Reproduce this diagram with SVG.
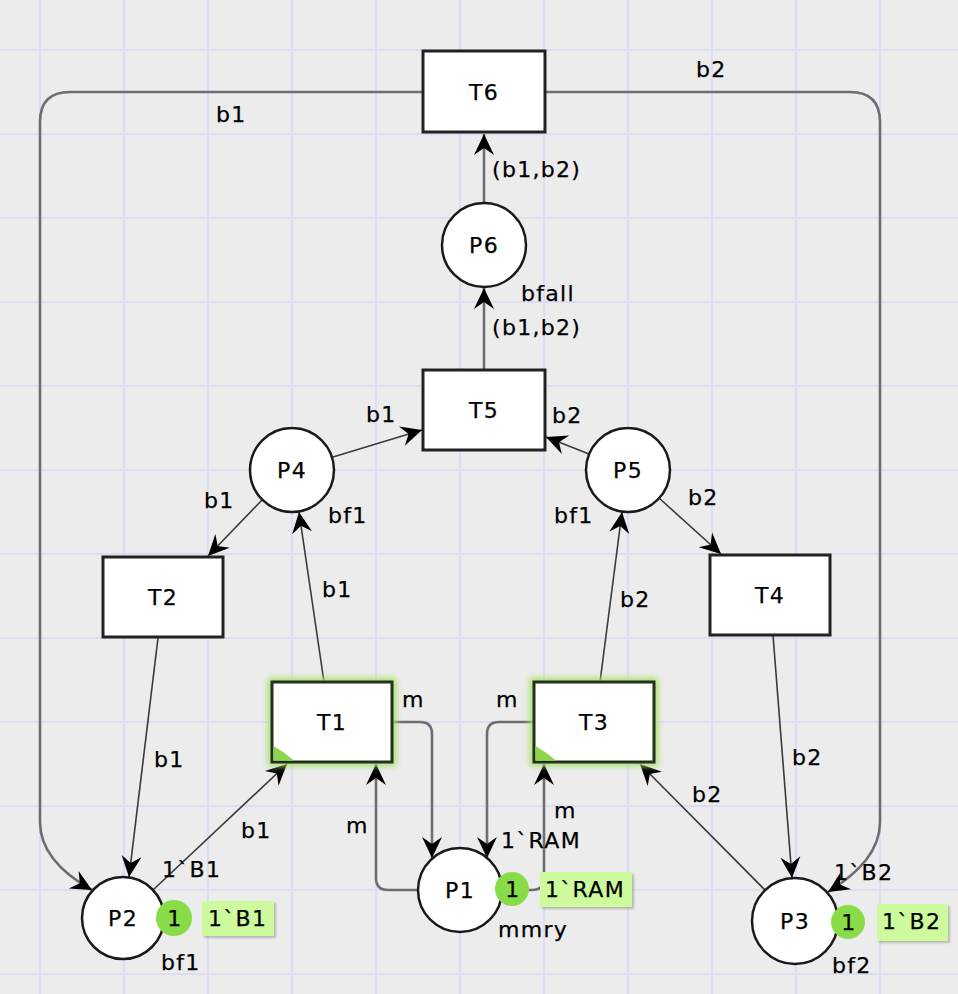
<svg xmlns="http://www.w3.org/2000/svg" width="958" height="994" viewBox="0 0 958 994">
<defs>
<style>
.t{font-family:"DejaVu Sans",Verdana,sans-serif;font-size:22px;letter-spacing:1.3px;fill:#000;stroke:#000;stroke-width:0.25}
.c{text-anchor:middle;dominant-baseline:central}
.tr{fill:#fff;stroke:#222;stroke-width:3}
.pl{fill:#fff;stroke:#1a1a1a;stroke-width:2.5}
.a{fill:none;stroke:#3a3a3a;stroke-width:1.6;marker-end:url(#ah)}
.g{fill:none;stroke:#6e6e72;stroke-width:2.6;marker-end:url(#ah)}
.grid{stroke:#dcdcf3;stroke-width:2}
.tok{fill:#88dc48}
.box{fill:#ccfa9c}
.sh{fill:#777;opacity:0.45;filter:url(#blur1)}
</style>
<marker id="ah" viewBox="-23 -11 25 22" markerWidth="25" markerHeight="22" refX="0" refY="0" orient="auto" markerUnits="userSpaceOnUse">
<path d="M0,0 L-21,-10 L-14,0 L-21,10 Z" fill="#000"/>
</marker>
<filter id="glow" x="-30%" y="-30%" width="160%" height="160%"><feGaussianBlur stdDeviation="3"/></filter>
<filter id="blur1" x="-20%" y="-20%" width="140%" height="140%"><feGaussianBlur stdDeviation="1.2"/></filter>
</defs>
<rect width="958" height="994" fill="#ececec"/>
<g id="grid" class="grid">
<line x1="40" y1="0" x2="40" y2="994"/><line x1="124" y1="0" x2="124" y2="994"/><line x1="208" y1="0" x2="208" y2="994"/><line x1="292" y1="0" x2="292" y2="994"/><line x1="376" y1="0" x2="376" y2="994"/><line x1="460" y1="0" x2="460" y2="994"/><line x1="544" y1="0" x2="544" y2="994"/><line x1="628" y1="0" x2="628" y2="994"/><line x1="712" y1="0" x2="712" y2="994"/><line x1="796" y1="0" x2="796" y2="994"/><line x1="880" y1="0" x2="880" y2="994"/>
<line x1="0" y1="50" x2="958" y2="50"/><line x1="0" y1="134" x2="958" y2="134"/><line x1="0" y1="218" x2="958" y2="218"/><line x1="0" y1="302" x2="958" y2="302"/><line x1="0" y1="386" x2="958" y2="386"/><line x1="0" y1="470" x2="958" y2="470"/><line x1="0" y1="554" x2="958" y2="554"/><line x1="0" y1="638" x2="958" y2="638"/><line x1="0" y1="722" x2="958" y2="722"/><line x1="0" y1="806" x2="958" y2="806"/><line x1="0" y1="890" x2="958" y2="890"/><line x1="0" y1="974" x2="958" y2="974"/>
</g>
<g id="connectors">
<path class="g" d="M423,92 H70 Q40,92 40,122 V822 C40,850 60,872 92,890"/>
<path class="g" d="M545,92 H850 Q880,92 880,122 V822 C880,850 860,872 828,892"/>
<path class="g" d="M484,203 V134"/>
<path class="g" d="M484,370 V288"/>
<path class="a" d="M333,457 L422,430"/>
<path class="a" d="M589,454 L546,437"/>
<path class="a" d="M262,500 L208,556"/>
<path class="a" d="M659,498 L721,554"/>
<path class="a" d="M324,682 L299,512"/>
<path class="a" d="M600,682 L622,512"/>
<path class="a" d="M158,638 L129,877"/>
<path class="a" d="M773,635 L792,878"/>
<path class="a" d="M153,890 L287,764"/>
<path class="a" d="M765,890 L640,764"/>
<path class="g" d="M392,722 H420 Q432,722 432,734 V858"/>
<path class="g" d="M534,722 H499 Q487,722 487,734 V858"/>
<path class="g" d="M418,890 H388 Q376,890 376,878 V764"/>
<path class="g" d="M502,890 H532 Q544,890 544,878 V764"/>
<text class="t" x="216" y="122">b1</text>
<text class="t" x="696" y="77">b2</text>
<text class="t" x="492" y="177">(b1,b2)</text>
<text class="t" x="492" y="335">(b1,b2)</text>
<text class="t" x="366" y="422">b1</text>
<text class="t" x="552" y="423">b2</text>
<text class="t" x="204" y="508">b1</text>
<text class="t" x="688" y="505">b2</text>
<text class="t" x="322" y="597">b1</text>
<text class="t" x="620" y="607">b2</text>
<text class="t" x="154" y="767">b1</text>
<text class="t" x="792" y="765">b2</text>
<text class="t" x="402" y="707">m</text>
<text class="t" x="496" y="707">m</text>
<text class="t" x="346" y="833">m</text>
<text class="t" x="554" y="818">m</text>
<text class="t" x="241" y="838">b1</text>
<text class="t" x="692" y="802">b2</text>
</g>
<g id="T6"><rect class="tr" x="423" y="51" width="122" height="81"/><text class="t c" x="484" y="92">T6</text></g>
<g id="P6"><circle class="pl" cx="484" cy="245" r="42"/><text class="t c" x="484" y="245">P6</text><text class="t" x="521" y="301">bfall</text></g>
<g id="T5"><rect class="tr" x="423" y="370" width="122" height="80"/><text class="t c" x="484" y="410">T5</text></g>
<g id="P4"><circle class="pl" cx="292" cy="470" r="42"/><text class="t c" x="292" y="470">P4</text><text class="t" x="328" y="523">bf1</text></g>
<g id="P5"><circle class="pl" cx="628" cy="470" r="42"/><text class="t c" x="628" y="470">P5</text><text class="t" x="554" y="523">bf1</text></g>
<g id="T2"><rect class="tr" x="103" y="557" width="120" height="80"/><text class="t c" x="163" y="597">T2</text></g>
<g id="T4"><rect class="tr" x="710" y="555" width="120" height="80"/><text class="t c" x="770" y="595">T4</text></g>
<g id="T1">
<rect x="272" y="682" width="120" height="80" fill="#a6e06a" stroke="#a6e06a" stroke-width="8" filter="url(#glow)"/>
<rect x="272" y="682" width="120" height="80" fill="#fff" stroke="#24301a" stroke-width="3"/>
<path d="M273.5,746 Q284,752 294,760.5 H273.5 Z" fill="#8ad64c"/>
<text class="t c" x="332" y="722">T1</text>
</g>
<g id="T3">
<rect x="534" y="682" width="120" height="80" fill="#a6e06a" stroke="#a6e06a" stroke-width="8" filter="url(#glow)"/>
<rect x="534" y="682" width="120" height="80" fill="#fff" stroke="#24301a" stroke-width="3"/>
<path d="M535.5,746 Q546,752 556,760.5 H535.5 Z" fill="#8ad64c"/>
<text class="t c" x="594" y="722">T3</text>
</g>
<g id="P1">
<circle class="pl" cx="460" cy="890" r="42"/><text class="t c" x="460" y="890">P1</text>
<text class="t" x="501" y="848">1`RAM</text>
<text class="t" x="498" y="937">mmry</text>
<circle class="tok" cx="512" cy="889" r="17"/><text class="t c" x="513" y="889">1</text>
<rect class="sh" x="542" y="874" width="92" height="35"/>
<rect class="box" x="540" y="872" width="92" height="35"/>
<text class="t" x="545" y="897">1`RAM</text>
</g>
<g id="P2">
<circle class="pl" cx="123" cy="918" r="41"/><text class="t c" x="123" y="918">P2</text>
<text class="t" x="162" y="877">1`B1</text>
<text class="t" x="161" y="970">bf1</text>
<circle class="tok" cx="174" cy="918" r="18"/><text class="t c" x="175" y="918">1</text>
<rect class="sh" x="204" y="903" width="72" height="35"/>
<rect class="box" x="202" y="901" width="72" height="35"/>
<text class="t" x="208" y="926">1`B1</text>
</g>
<g id="P3">
<circle class="pl" cx="795" cy="921" r="43"/><text class="t c" x="795" y="921">P3</text>
<text class="t" x="834" y="880">1`B2</text>
<text class="t" x="832" y="973">bf2</text>
<circle class="tok" cx="848" cy="922" r="17"/><text class="t c" x="849" y="922">1</text>
<rect class="sh" x="879" y="906" width="71" height="37"/>
<rect class="box" x="877" y="904" width="71" height="37"/>
<text class="t" x="882" y="929">1`B2</text>
</g>
</svg>
